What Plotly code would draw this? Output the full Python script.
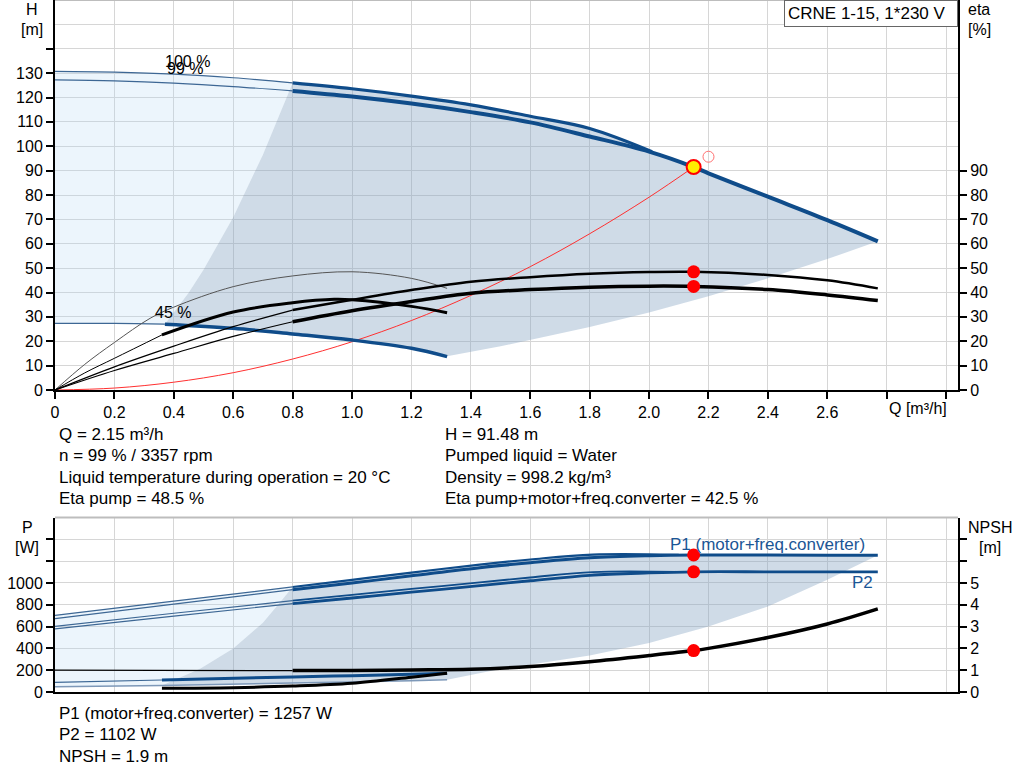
import plotly.graph_objects as go

# ---------------- data: upper chart (H / eta vs Q) ----------------
Q_H100 = [0, 0.2, 0.4, 0.6, 0.8, 1.0, 1.2, 1.4, 1.6, 1.8, 2.01]
H_100 = [130.7, 130.4, 129.6, 128.1, 126.0, 123.6, 120.6, 117.0, 112.3, 107.3, 97.8]
Q_H99 = [0, 0.2, 0.4, 0.6, 0.8, 1.0, 1.2, 1.4, 1.6, 1.8, 2.0, 2.15, 2.2, 2.4, 2.6, 2.77]
H_99 = [127.2, 126.8, 125.9, 124.5, 122.7, 120.4, 117.5, 114.0, 109.8, 104.0, 97.8, 91.48, 88.9, 79.3, 69.7, 61.0]
Q_H45 = [0, 0.2, 0.37, 0.6, 0.8, 1.0, 1.2, 1.32]
H_45 = [27.3, 27.3, 27.0, 25.3, 23.0, 20.5, 17.1, 13.7]
Q_Hmin = [0.37, 0.45, 0.5, 0.6, 0.7, 0.8]
H_min = [27.0, 39.9, 49.3, 70.9, 96.5, 126.0]
Q_Hmax = [1.32, 1.5, 1.8, 2.0, 2.2, 2.4, 2.6, 2.77]
H_max = [13.8, 17.9, 25.8, 31.8, 38.5, 45.8, 53.7, 61.0]
Q_sys = [0, 0.2, 0.4, 0.6, 0.8, 1.0, 1.2, 1.4, 1.6, 1.8, 2.0, 2.15]
H_sys = [0, 0.8, 3.2, 7.1, 12.7, 19.8, 28.5, 38.8, 50.6, 64.1, 79.1, 91.48]

Q_eta99 = [0, 0.2, 0.4, 0.6, 0.8, 1.0, 1.2, 1.4, 1.6, 1.8, 2.0, 2.15, 2.4, 2.6, 2.77]
eta_pump99 = [0, 9.5, 18.0, 26.0, 32.8, 37.0, 41.0, 44.4, 46.3, 47.7, 48.4, 48.5, 47.2, 45.0, 41.7]
eta_tot99 = [0, 8.0, 15.0, 22.0, 28.0, 32.5, 36.3, 39.7, 41.2, 42.2, 42.6, 42.5, 41.2, 39.0, 36.7]
Q_eta45p = [0, 0.1, 0.2, 0.32, 0.4, 0.6, 0.8, 1.0, 1.2, 1.32]
eta_pump45 = [0, 10.5, 19.5, 29.4, 34.0, 42.4, 46.8, 48.5, 45.8, 41.7]
Q_eta45t = [0, 0.1, 0.2, 0.36, 0.6, 0.8, 0.94, 1.0, 1.2, 1.32]
eta_tot45 = [0, 7.0, 13.0, 22.6, 32.0, 35.8, 37.2, 37.0, 34.3, 31.7]

# ---------------- data: lower chart (P / NPSH vs Q) ----------------
Q_P1_100 = [0, 0.4, 0.8, 1.0, 1.2, 1.43, 1.6, 1.81, 2.1]
P1_100 = [702, 833, 963, 1028, 1095, 1168, 1215, 1260, 1258]
Q_P1_99 = [0, 0.4, 0.8, 1.0, 1.2, 1.43, 1.6, 1.8, 2.0, 2.15, 2.4, 2.6, 2.77]
P1_99 = [672, 806, 938, 1000, 1065, 1140, 1185, 1230, 1250, 1257, 1256, 1255, 1254]
Q_P2_100 = [0, 0.4, 0.8, 1.0, 1.2, 1.43, 1.6, 1.81, 2.1]
P2_100 = [601, 722, 837, 890, 945, 1005, 1050, 1100, 1101]
Q_P2_99 = [0, 0.4, 0.8, 1.0, 1.2, 1.43, 1.6, 1.8, 2.0, 2.15, 2.4, 2.6, 2.77]
P2_99 = [578, 696, 810, 862, 915, 975, 1020, 1070, 1092, 1102, 1102, 1101, 1101]
Q_P45 = [0, 0.36, 0.8, 1.0, 1.2, 1.32]
P1_45 = [89, 110, 138, 150, 163, 172]
P2_45 = [49, 60, 82, 92, 103, 112]
Q_Pmin = [0.36, 0.49, 0.6, 0.7, 0.76, 0.8]
P_min = [60, 215, 400, 635, 830, 963]
Q_Pmax = [1.32, 1.5, 1.6, 1.8, 2.0, 2.2, 2.4, 2.6, 2.77]
P_max = [112, 210, 250, 335, 450, 601, 785, 1030, 1255]
Q_NPSH99 = [0, 0.8, 1.0, 1.2, 1.4, 1.6, 1.8, 2.0, 2.15, 2.2, 2.4, 2.6, 2.77]
NPSH_99 = [1.0, 0.98, 0.99, 1.01, 1.04, 1.17, 1.39, 1.67, 1.9, 2.0, 2.5, 3.12, 3.81]
Q_NPSH45 = [0.36, 0.6, 0.8, 1.0, 1.2, 1.32]
NPSH_45 = [0.17, 0.2, 0.27, 0.4, 0.68, 0.86]

# operating / requested point
Q_op, H_op, eta_p_op, eta_t_op = 2.15, 91.48, 48.5, 42.5
P1_op, P2_op, NPSH_op = 1257, 1102, 1.9
Q_req, H_req = 2.2, 95.7

# tick labels
x_tickvals = [0, 0.2, 0.4, 0.6, 0.8, 1.0, 1.2, 1.4, 1.6, 1.8, 2.0, 2.2, 2.4, 2.6, 2.8, 3.0]
x_ticktext = ["0", "0.2", "0.4", "0.6", "0.8", "1.0", "1.2", "1.4", "1.6", "1.8", "2.0",
              "2.2", "2.4", "2.6", "", ""]
H_tickvals = [0, 10, 20, 30, 40, 50, 60, 70, 80, 90, 100, 110, 120, 130, 140]
H_ticktext = ["0", "10", "20", "30", "40", "50", "60", "70", "80", "90", "100", "110", "120", "130", ""]
eta_tickvals = [0, 10, 20, 30, 40, 50, 60, 70, 80, 90]
P_tickvals = [0, 200, 400, 600, 800, 1000, 1200, 1400]
P_ticktext = ["0", "200", "400", "600", "800", "1000", "", ""]
N_tickvals = [0, 1, 2, 3, 4, 5, 6, 7]
N_ticktext = ["0", "1", "2", "3", "4", "5", "", ""]

# ---------------- styles ----------------
W, Hh = 1024, 781
FONT = "Liberation Sans, Arial, sans-serif"
BLUE = "#0f4c8a"
THINBLUE = "#3d6794"
GRID = "#d6d6d6"
DARKFILL = "rgba(136,164,196,0.40)"
LIGHTFILL = "rgba(180,215,245,0.25)"

fig = go.Figure()


def add_line(x, y, xa, ya, color, width, shape="spline"):
    fig.add_trace(go.Scatter(x=x, y=y, xaxis=xa, yaxis=ya, mode="lines",
                             line=dict(color=color, width=width, shape=shape),
                             hoverinfo="skip", showlegend=False))


def add_fill(x, y, xa, ya, color):
    fig.add_trace(go.Scatter(x=x, y=y, xaxis=xa, yaxis=ya, mode="lines", fill="toself",
                             fillcolor=color, line=dict(width=0),
                             hoverinfo="skip", showlegend=False))


def add_pts(x, y, xa, ya, size, fill, lc, lw, symbol="circle"):
    fig.add_trace(go.Scatter(x=x, y=y, xaxis=xa, yaxis=ya, mode="markers",
                             marker=dict(size=size, color=fill, symbol=symbol,
                                         line=dict(color=lc, width=lw)),
                             hoverinfo="skip", showlegend=False))


# ---------- upper chart fills ----------
light_x = Q_H100[0:5] + Q_Hmin[::-1][1:] + Q_H45[2::-1][1:]
light_y = H_100[0:5] + H_min[::-1][1:] + H_45[2::-1][1:]
add_fill(light_x, light_y, "x", "y", LIGHTFILL)

dark_x = Q_Hmin + Q_H100[5:] + Q_H99[11:] + Q_Hmax[::-1][1:] + Q_H45[7:1:-1][1:]
dark_y = H_min + H_100[5:] + H_99[11:] + H_max[::-1][1:] + H_45[7:1:-1][1:]
add_fill(dark_x, dark_y, "x", "y", DARKFILL)

# ---------- upper chart curves ----------
add_line(Q_sys, H_sys, "x", "y", "#ff3030", 1)
add_line(Q_H100[:5], H_100[:5], "x", "y", THINBLUE, 1.2)
add_line(Q_H100[4:], H_100[4:], "x", "y", BLUE, 3.2)
add_line(Q_H99[:5], H_99[:5], "x", "y", THINBLUE, 1.2)
add_line(Q_H99[4:], H_99[4:], "x", "y", BLUE, 4)
add_line(Q_H45[:3], H_45[:3], "x", "y", THINBLUE, 1.2)
add_line(Q_H45[2:], H_45[2:], "x", "y", BLUE, 3.5)

add_line(Q_eta45p, eta_pump45, "x", "y2", "#555555", 1)
add_line(Q_eta45t[:4], eta_tot45[:4], "x", "y2", "#000000", 1)
add_line(Q_eta45t[3:], eta_tot45[3:], "x", "y2", "#000000", 3)
add_line(Q_eta99[:5], eta_pump99[:5], "x", "y2", "#000000", 1.2)
add_line(Q_eta99[4:], eta_pump99[4:], "x", "y2", "#000000", 2.5)
add_line(Q_eta99[:5], eta_tot99[:5], "x", "y2", "#000000", 1.2)
add_line(Q_eta99[4:], eta_tot99[4:], "x", "y2", "#000000", 3.5)

add_pts([Q_op, Q_op], [eta_p_op, eta_t_op], "x", "y2", 13, "#ff0000", "#ff0000", 0)
add_pts([Q_req], [H_req], "x", "y", 11, "rgba(0,0,0,0)", "#ff7070", 1)
add_pts([Q_op], [H_op], "x", "y", 14, "#ffee00", "#ff0000", 2)

# ---------- lower chart fills ----------
lp_x = Q_P1_100[0:3] + Q_Pmin[::-1][1:] + Q_P45[1::-1][1:]
lp_y = P1_100[0:3] + P_min[::-1][1:] + P2_45[1::-1][1:]
add_fill(lp_x, lp_y, "x2", "y3", LIGHTFILL)

dp_x = Q_Pmin + Q_P1_100[3:8] + Q_P1_99[9:] + Q_Pmax[::-1][1:] + Q_P45[5:0:-1][1:]
dp_y = P_min + P1_100[3:8] + P1_99[9:] + P_max[::-1][1:] + P2_45[5:0:-1][1:]
add_fill(dp_x, dp_y, "x2", "y3", DARKFILL)

# ---------- lower chart curves ----------
for qq, pp, wthick in [(Q_P1_100, P1_100, 2.2), (Q_P1_99, P1_99, 3),
                       (Q_P2_100, P2_100, 1.8), (Q_P2_99, P2_99, 2.8)]:
    add_line(qq[:3], pp[:3], "x2", "y3", THINBLUE, 1.2)
    add_line(qq[2:], pp[2:], "x2", "y3", BLUE, wthick)

add_line(Q_P45, P2_45, "x2", "y3", "#7d98b8", 1.5)
add_line(Q_P45[:2], P1_45[:2], "x2", "y3", THINBLUE, 1.2)
add_line(Q_P45[1:], P1_45[1:], "x2", "y3", BLUE, 3)

add_line(Q_NPSH99[:2], NPSH_99[:2], "x2", "y4", "#000000", 1.3, "linear")
add_line(Q_NPSH99[1:], NPSH_99[1:], "x2", "y4", "#000000", 3.5)
add_line(Q_NPSH45, NPSH_45, "x2", "y4", "#000000", 3)

add_pts([Q_op, Q_op], [P1_op, P2_op], "x2", "y3", 13, "#ff0000", "#ff0000", 0)
add_pts([Q_op], [NPSH_op], "x2", "y4", 13, "#ff0000", "#ff0000", 0)

# ---------------- layout ----------------
XD = [55 / W, 958 / W]
YD1 = [1 - 390 / Hh, 1]
YD2 = [1 - 692 / Hh, 1 - 517.5 / Hh]
tickfont = dict(family=FONT, size=16, color="#000000")

common_y = dict(showline=True, linecolor="#000000", linewidth=2, ticks="outside",
                ticklen=7, tickwidth=1.5, tickcolor="#000000", zeroline=False,
                tickfont=tickfont, fixedrange=True)

fig.update_layout(
    width=W, height=Hh, margin=dict(l=0, r=0, t=0, b=0, autoexpand=False),
    paper_bgcolor="white", plot_bgcolor="white", showlegend=False,
    font=dict(family=FONT, size=16, color="#000000"),
    xaxis=dict(domain=XD, range=[0, 3.04], anchor="y", tickmode="array",
               tickvals=x_tickvals, ticktext=x_ticktext, showgrid=True, gridcolor=GRID,
               gridwidth=1.3, **common_y),
    yaxis=dict(domain=YD1, range=[0, 160], anchor="x", tickmode="array",
               tickvals=H_tickvals, ticktext=H_ticktext, showgrid=True, gridcolor=GRID,
               gridwidth=1.3, minor=dict(tickvals=[150], showgrid=True, gridcolor=GRID,
                                         gridwidth=1.3, ticks=""),
               **common_y),
    yaxis2=dict(domain=YD1, range=[0, 160], anchor="x", overlaying="y", side="right",
                tickmode="array", tickvals=eta_tickvals, showgrid=False, **common_y),
    xaxis2=dict(domain=XD, range=[0, 3.04], anchor="y3", tickmode="array",
                tickvals=x_tickvals, showticklabels=False, ticks="", showgrid=True,
                gridcolor=GRID, gridwidth=1.3, showline=True, linecolor="#000000",
                linewidth=2, zeroline=False, fixedrange=True),
    yaxis3=dict(domain=YD2, range=[0, 1600], anchor="x2", tickmode="array",
                tickvals=P_tickvals, ticktext=P_ticktext, showgrid=True, gridcolor=GRID,
                gridwidth=1.3, **common_y),
    yaxis4=dict(domain=YD2, range=[0, 8], anchor="x2", overlaying="y3", side="right",
                tickmode="array", tickvals=N_tickvals, ticktext=N_ticktext,
                showgrid=False, **common_y),
)

# top borders (gray)
fig.add_shape(type="line", xref="x domain", yref="y domain", x0=0, x1=1, y0=1, y1=1,
              line=dict(color="#bdbdbd", width=2))
fig.add_shape(type="line", xref="x2 domain", yref="y3 domain", x0=0, x1=1, y0=1, y1=1,
              line=dict(color="#bdbdbd", width=2))


def px(x):
    return x / W


def py(y):
    return 1 - y / Hh


def ann(text, x, y, size=17, xanchor="left", color="#000000", **kw):
    fig.add_annotation(text=text, x=px(x), y=py(y), xref="paper", yref="paper",
                       xanchor=xanchor, yanchor="middle", showarrow=False,
                       font=dict(family=FONT, size=size, color=color), **kw)


# axis titles
ann("H", 31.7, 9.5, 16, "center")
ann("[m]", 31.7, 30, 16, "center")
ann("eta", 979, 9.5, 16, "center")
ann("[%]", 979, 30, 16, "center")
ann("P", 27, 527, 16, "center")
ann("[W]", 27, 547, 16, "center")
ann("NPSH", 990, 527, 16, "center")
ann("[m]", 990, 547, 16, "center")
ann("Q [m³/h]", 887, 408, 16, "left")

# legend box
fig.add_annotation(text="CRNE 1-15, 1*230 V", x=px(958), y=1, xref="paper", yref="paper",
                   xanchor="right", yanchor="top", showarrow=False, align="left",
                   font=dict(family=FONT, size=17, color="#000000"),
                   bordercolor="#666666", borderwidth=1, borderpad=3, bgcolor="white",
                   width=166)

# curve labels (data coords)
fig.add_annotation(text="100 %", x=0.446, y=134.7, xref="x", yref="y", showarrow=False,
                   font=dict(family=FONT, size=16, color="#000000"))
fig.add_annotation(text="99 %", x=0.437, y=132.0, xref="x", yref="y", showarrow=False,
                   font=dict(family=FONT, size=16, color="#000000"))
fig.add_annotation(text="45 %", x=0.398, y=31.7, xref="x", yref="y", showarrow=False,
                   font=dict(family=FONT, size=16, color="#000000"))
fig.add_annotation(text="P1 (motor+freq.converter)", x=2.40, y=1350, xref="x2", yref="y3",
                   showarrow=False, font=dict(family=FONT, size=17, color="#1b5696"))
fig.add_annotation(text="P2", x=2.717, y=1000, xref="x2", yref="y3",
                   showarrow=False, font=dict(family=FONT, size=17, color="#1b5696"))

# info texts
info_left = ["Q = 2.15 m³/h", "n = 99 % / 3357 rpm",
             "Liquid temperature during operation = 20 °C", "Eta pump = 48.5 %"]
info_right = ["H = 91.48 m", "Pumped liquid = Water", "Density = 998.2 kg/m³",
              "Eta pump+motor+freq.converter = 42.5 %"]
info_rows = [434, 455.5, 477, 498.5]
for t, yy in zip(info_left, info_rows):
    ann(t, 57, yy)
for t, yy in zip(info_right, info_rows):
    ann(t, 443, yy)
info_bottom = ["P1 (motor+freq.converter) = 1257 W", "P2 = 1102 W", "NPSH = 1.9 m"]
for t, yy in zip(info_bottom, [713.5, 734.5, 756.5]):
    ann(t, 57, yy)

fig.write_html("out.html", config={"displayModeBar": False},
               post_script="document.body.style.margin='0';")
